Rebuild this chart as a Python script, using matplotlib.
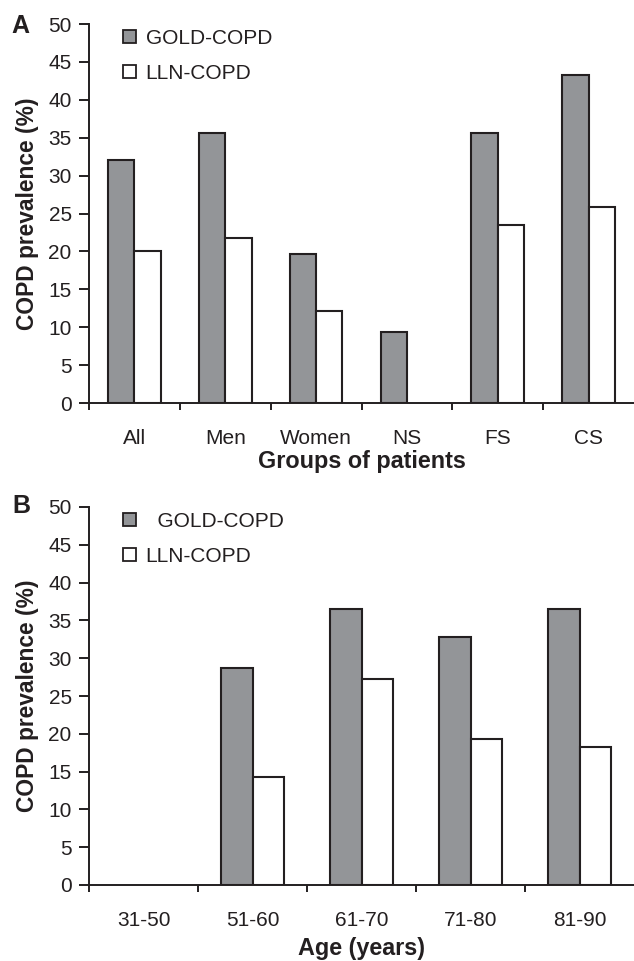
import numpy as np
import matplotlib
matplotlib.use('Agg')
import matplotlib.pyplot as plt
from matplotlib.patches import Patch

plt.rcParams['font.family'] = ['Liberation Sans', 'DejaVu Sans']

# Panel A data
groups = ['All', 'Men', 'Women', 'NS', 'FS', 'CS']
gold_a = [32.0, 35.6, 19.6, 9.4, 35.6, 43.3]
lln_a = [20.0, 21.8, 12.2, 0.0, 23.5, 25.9]

# Panel B data
ages = ['31-50', '51-60', '61-70', '71-80', '81-90']
gold_b = [0.0, 28.7, 36.5, 32.8, 36.5]
lln_b = [0.0, 14.3, 27.2, 19.3, 18.2]

gray = '#939598'
edge = '#231f20'
txt = '#231f20'

W, H = 634, 961


def draw_panel(ax, cats, gold, lln, xlabel, xlabelpad, gold_label):
    n = len(cats)
    x = np.arange(n)
    w = 0.29
    gold_bars = ax.bar(x - w / 2, gold, w, color=gray, edgecolor=edge, linewidth=1.5)
    lln_bars = ax.bar(x + w / 2, lln, w, color='white', edgecolor=edge, linewidth=1.5)
    # zero values have no bar in the original
    for b, v in zip(list(gold_bars) + list(lln_bars), list(gold) + list(lln)):
        if v == 0:
            b.set_visible(False)

    ax.set_xlim(-0.5, n - 0.5)
    ax.set_ylim(0, 50)
    ax.set_yticks(np.arange(0, 51, 5))
    ax.set_xticks(x)
    ax.set_xticklabels(cats)
    ax.set_xticks(np.arange(n) - 0.5, minor=True)
    ax.tick_params(axis='x', which='major', length=0, pad=18.5, labelsize=15, colors=txt)
    ax.tick_params(axis='x', which='minor', length=5, width=1.4, color=edge, direction='out')
    ax.tick_params(axis='y', length=7.5, width=1.4, color=edge, labelsize=15, colors=txt, pad=5)

    for s in ['top', 'right']:
        ax.spines[s].set_visible(False)
    for s in ['left', 'bottom']:
        ax.spines[s].set_linewidth(1.4)
        ax.spines[s].set_color(edge)

    ax.set_ylabel('COPD prevalence (%)', fontsize=16.4, fontweight='bold', color=txt, labelpad=7)
    ax.set_xlabel(xlabel, fontsize=16.8, fontweight='bold', color=txt, labelpad=xlabelpad)

    handles = [Patch(facecolor=gray, edgecolor=edge, linewidth=1.3),
               Patch(facecolor='white', edgecolor=edge, linewidth=1.3)]
    labels = [gold_label, 'LLN-COPD']
    ax.legend(handles, labels, loc='upper left', bbox_to_anchor=(0.062, 0.987),
              frameon=False, fontsize=15, handlelength=0.62, handleheight=0.62,
              handletextpad=0.48, labelspacing=0.76, labelcolor=txt,
              borderpad=0, borderaxespad=0)


fig = plt.figure(figsize=(W / 100, H / 100), dpi=100)
ax_a = fig.add_axes([89 / W, 1 - 403 / H, 1 - 89 / W, 379 / H])
ax_b = fig.add_axes([89 / W, 1 - 885 / H, 1 - 89 / W, 378 / H])

draw_panel(ax_a, groups, gold_a, lln_a, 'Groups of patients', 2, 'GOLD-COPD')
draw_panel(ax_b, ages, gold_b, lln_b, 'Age (years)', 5, '  GOLD-COPD')

fig.text(11 / W, 1 - 33 / H, 'A', fontsize=18, fontweight='bold', color=txt, va='baseline')
fig.text(12 / W, 1 - 513 / H, 'B', fontsize=18, fontweight='bold', color=txt, va='baseline')

fig.savefig('out.png', dpi=100)
